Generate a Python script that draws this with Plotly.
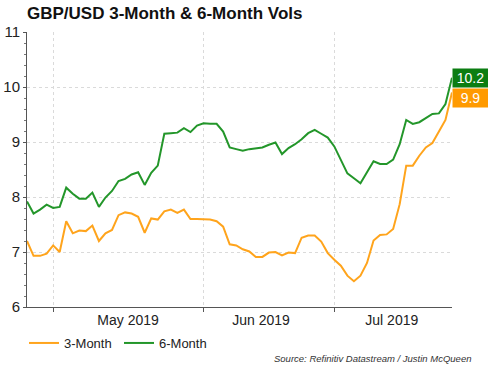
import pandas as pd
import plotly.graph_objects as go

# weekday (trading-day) dates
dates = pd.bdate_range("2019-04-25", "2019-07-25").strftime("%Y-%m-%d").tolist()

vol_3m = [7.20, 6.93, 6.93, 6.97, 7.12, 7.00, 7.56, 7.34, 7.39, 7.38,
          7.48, 7.20, 7.34, 7.40, 7.67, 7.72, 7.70, 7.64, 7.35, 7.61,
          7.59, 7.74, 7.77, 7.71, 7.77, 7.60, 7.60, 7.60, 7.59, 7.56,
          7.46, 7.14, 7.12, 7.05, 7.01, 6.91, 6.91, 6.99, 7.00, 6.94,
          6.99, 6.98, 7.26, 7.30, 7.30, 7.19, 6.98, 6.86, 6.75, 6.57,
          6.47, 6.57, 6.80, 7.21, 7.31, 7.32, 7.42, 7.87, 8.57, 8.57,
          8.75, 8.90, 8.98, 9.19, 9.40, 9.90]

vol_6m = [7.92, 7.70, 7.77, 7.86, 7.80, 7.82, 8.17, 8.06, 7.97, 7.97,
          8.08, 7.82, 7.99, 8.11, 8.29, 8.33, 8.41, 8.45, 8.22, 8.44,
          8.57, 9.15, 9.16, 9.17, 9.25, 9.18, 9.30, 9.34, 9.33, 9.33,
          9.19, 8.90, 8.87, 8.84, 8.87, 8.88, 8.90, 8.95, 8.99, 8.78,
          8.89, 8.96, 9.05, 9.16, 9.22, 9.15, 9.08, 8.92, 8.68, 8.43,
          8.34, 8.25, 8.45, 8.65, 8.60, 8.60, 8.68, 8.96, 9.40, 9.33,
          9.36, 9.44, 9.51, 9.52, 9.69, 10.17]

month_starts = ["2019-05-01", "2019-06-03", "2019-07-01"]
month_label_pos = ["2019-05-16 11:00", "2019-06-13 19:00", "2019-07-11 19:00"]
month_labels = ["May 2019", "Jun 2019", "Jul 2019"]

ORANGE_LINE = "#FFA41C"
GREEN_LINE = "#23962A"
ORANGE_BOX = "#FF9A00"
GREEN_BOX = "#0B7D12"
FONT = "Liberation Sans, Arial, sans-serif"

fig = go.Figure()
fig.add_trace(go.Scatter(x=dates, y=vol_3m, mode="lines", name="3-Month",
                         line=dict(color=ORANGE_LINE, width=2)))
fig.add_trace(go.Scatter(x=dates, y=vol_6m, mode="lines", name="6-Month",
                         line=dict(color=GREEN_LINE, width=2)))

fig.add_annotation(x=dates[-1], y=vol_6m[-1], xref="x", yref="y",
                   text=f"{vol_6m[-1]:.1f}", showarrow=False, xanchor="left",
                   yanchor="middle", bgcolor=GREEN_BOX, width=33, height=16,
                   font=dict(color="white", size=14, family=FONT), borderpad=1)
fig.add_annotation(x=dates[-1], y=vol_3m[-1], xref="x", yref="y",
                   text=f"{vol_3m[-1]:.1f}", showarrow=False, xanchor="left",
                   yanchor="middle", yshift=-5, bgcolor=ORANGE_BOX, width=33,
                   height=16, font=dict(color="white", size=14, family=FONT),
                   borderpad=1)

fig.add_annotation(text="<i>Source: Refinitiv Datastream / Justin McQueen</i>",
                   xref="paper", yref="paper", x=1.049, y=-0.186,
                   xanchor="right", yanchor="middle", showarrow=False,
                   font=dict(size=9.5, color="#333333", family=FONT))

fig.update_layout(
    width=488, height=365,
    margin=dict(l=27, r=36, t=32, b=58, autoexpand=False),
    paper_bgcolor="white", plot_bgcolor="white",
    font=dict(family=FONT, color="#222222"),
    title=dict(text="<b>GBP/USD 3-Month &amp; 6-Month Vols</b>",
               x=27 / 488, xanchor="left", xref="container",
               y=1 - 13 / 365, yanchor="middle", yref="container",
               font=dict(size=17, color="#111111", family=FONT)),
    showlegend=True,
    legend=dict(orientation="h", x=24 / 488, xanchor="left", xref="container",
                y=1 - 343 / 365, yref="container", yanchor="middle",
                font=dict(size=13, color="#222222", family=FONT),
                entrywidth=50, entrywidthmode="pixels",
                bgcolor="rgba(0,0,0,0)"),
    xaxis=dict(
        range=[dates[0], dates[-1]], automargin=False,
        rangebreaks=[dict(bounds=["sat", "mon"])],
        tickmode="array", tickvals=month_label_pos, ticktext=month_labels,
        ticks="", showgrid=False,
        tickfont=dict(size=14, color="#222222"),
        showline=True, linecolor="#555555", linewidth=1,
        minor=dict(tickmode="array", tickvals=month_starts, ticks="outside",
                   ticklen=4, tickcolor="#555555", showgrid=True,
                   gridcolor="#DADADA", griddash="dot", gridwidth=1),
        zeroline=False,
    ),
    yaxis=dict(
        range=[6, 11], tickmode="linear", tick0=6, dtick=1, automargin=False,
        ticks="outside", ticklen=3, tickcolor="#555555",
        showgrid=True, gridcolor="#DADADA", griddash="dot", gridwidth=1,
        tickfont=dict(size=15, color="#222222"),
        showline=True, linecolor="#555555", linewidth=1,
        minor=dict(dtick=0.2, tick0=6, ticks="outside", ticklen=2,
                   tickcolor="#777777", showgrid=False),
        zeroline=False,
    ),
)

fig.write_html("out.html",
               config={"displayModeBar": False},
               post_script="document.body.style.margin='0';"
                           "document.body.style.overflow='hidden';")
